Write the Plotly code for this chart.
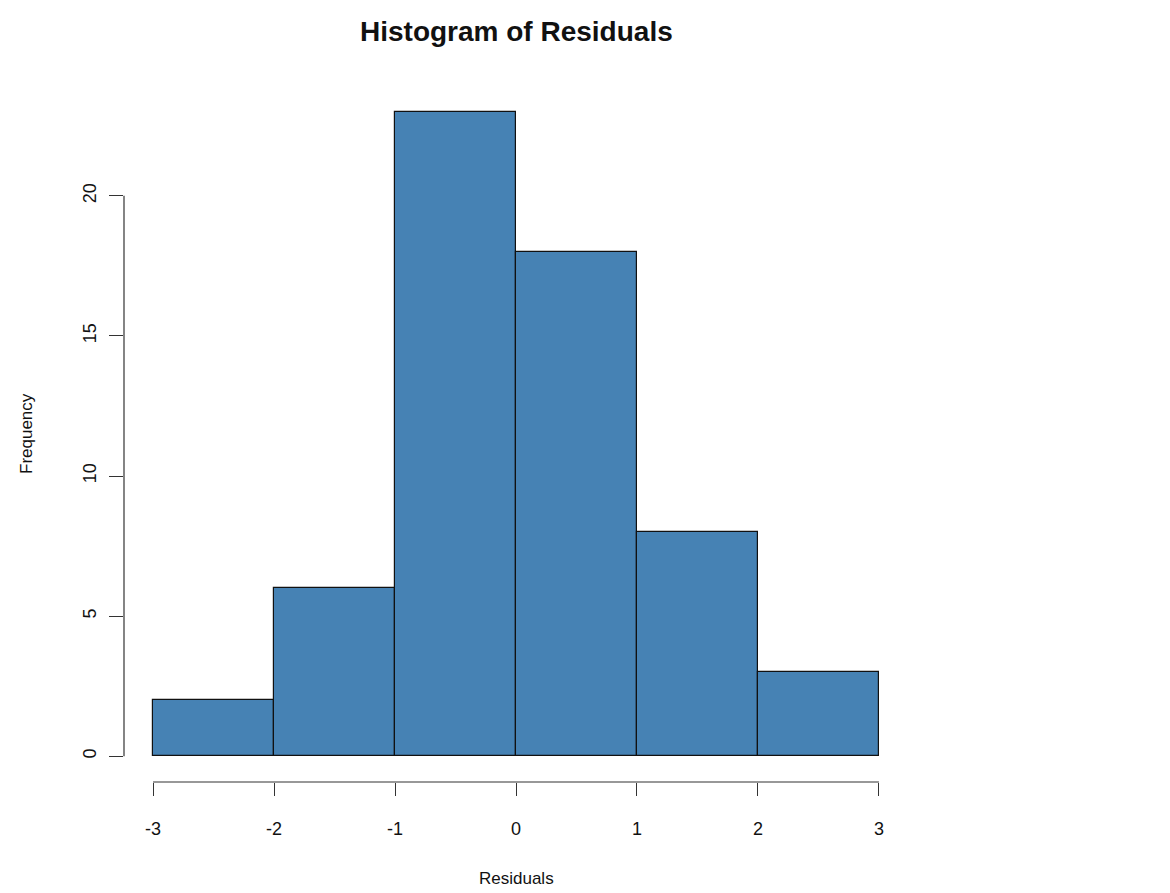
import plotly.graph_objects as go

# Data
bin_edges = [-3, -2, -1, 0, 1, 2, 3]
counts = [2, 6, 23, 18, 8, 3]
x_ticks = [-3, -2, -1, 0, 1, 2, 3]
y_ticks = [0, 5, 10, 15, 20]

centers = [(a + b) / 2 for a, b in zip(bin_edges[:-1], bin_edges[1:])]
widths = [b - a for a, b in zip(bin_edges[:-1], bin_edges[1:])]

FONT = "Liberation Sans, Arial, Helvetica, sans-serif"
AXC = "#333333"

fig = go.Figure()
fig.add_trace(go.Bar(
    x=centers, y=counts, width=widths,
    marker=dict(color="#4682B4", line=dict(color="#111111", width=1.2)),
    hoverinfo="x+y", showlegend=False,
))

# R-style axis extension (4%)
xr = [bin_edges[0] - 0.04 * (bin_edges[-1] - bin_edges[0]), bin_edges[-1] + 0.04 * (bin_edges[-1] - bin_edges[0])]
ymax = max(counts)
yr = [-0.04 * ymax, ymax * 1.04]

fig.update_layout(
    width=1170, height=893,
    margin=dict(l=116, r=270, t=78, b=119),
    paper_bgcolor="white", plot_bgcolor="white",
    font=dict(family=FONT, color="#111111", size=18),
    bargap=0,
    xaxis=dict(
        range=xr, tickvals=x_ticks, ticktext=[str(v) for v in x_ticks],
        showgrid=False, zeroline=False, showline=False,
        ticks="outside", ticklen=13, tickwidth=1.2, tickcolor=AXC,
        ticklabelstandoff=17, tickfont=dict(size=18),
    ),
    yaxis=dict(
        range=yr, tickvals=y_ticks, ticktext=[str(v) for v in y_ticks],
        showgrid=False, zeroline=False, showline=False,
        ticks="outside", ticklen=14, tickwidth=1.2, tickcolor=AXC,
        tickangle=-90, ticklabelstandoff=6, tickfont=dict(size=18),
    ),
    shapes=[
        dict(type="line", xref="x", yref="paper", x0=x_ticks[0], x1=x_ticks[-1], y0=0, y1=0,
             line=dict(color=AXC, width=1.2)),
        dict(type="line", xref="paper", yref="y", x0=0, x1=0, y0=y_ticks[0], y1=y_ticks[-1],
             line=dict(color=AXC, width=1.2)),
    ],
    annotations=[
        dict(text="<b>Histogram of Residuals</b>", xref="paper", yref="paper", x=0.5, y=1.079,
             xanchor="center", yanchor="middle", showarrow=False, font=dict(size=28, color="#111111")),
        dict(text="Residuals", xref="paper", yref="paper", x=0.5, y=-0.138,
             xanchor="center", yanchor="middle", showarrow=False, font=dict(size=17)),
        dict(text="Frequency", xref="paper", yref="paper", x=-0.125, y=0.5, textangle=-90,
             xanchor="center", yanchor="middle", showarrow=False, font=dict(size=17)),
    ],
)

fig.write_html("out.html")
